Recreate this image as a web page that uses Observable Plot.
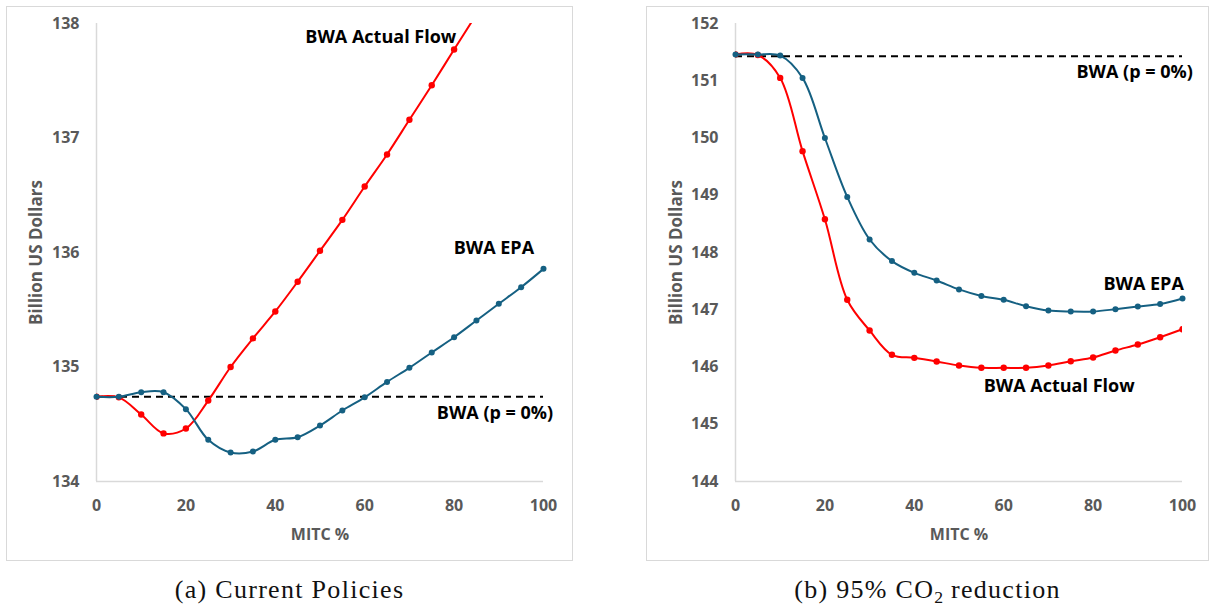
<!DOCTYPE html>
<html>
<head>
<meta charset="utf-8">
<script src="https://cdn.jsdelivr.net/npm/d3@7"></script>
<script src="https://cdn.jsdelivr.net/npm/@observablehq/plot@0.6"></script>
<style>
  body { margin: 0; background: #fff; width: 1210px; height: 606px; position: relative; overflow: hidden; }
  .panel { position: absolute; top: 7px; height: 553px; outline: 1.5px solid #d9d9d9; background: #fff; }
  .cap { position: absolute; top: 574px; font-family: "Liberation Serif", serif; font-size: 26px; letter-spacing: 1.3px; text-align: center; color: #111; line-height: 32px; }
  .cap sub { font-size: 0.68em; vertical-align: -0.3em; line-height: 0; letter-spacing: 0; }
</style>
</head>
<body>
<div id="pa" class="panel" style="left:7px;width:565px"></div>
<div id="pb" class="panel" style="left:647px;width:561px"></div>
<div class="cap" style="left:7px;width:565px">(a) Current Policies</div>
<div class="cap" style="left:647px;width:561px">(b) 95% CO<sub>2</sub> reduction</div>
<script>
// MITC share (%) evaluated in each scenario
const mitc = [0, 5, 10, 15, 20, 25, 30, 35, 40, 45, 50, 55, 60, 65, 70, 75, 80, 85, 90, 95, 100];
const xTicks = [0, 20, 40, 60, 80, 100];

// (a) Current Policies — billion US dollars
const currentBaseline = 134.74;
const currentEPA = [134.74, 134.74, 134.78, 134.78, 134.632, 134.364, 134.253, 134.262, 134.364, 134.387,
  134.489, 134.62, 134.735, 134.87, 134.993, 135.127, 135.26, 135.406, 135.552, 135.697, 135.857];
const currentActual = [134.74, 134.735, 134.585, 134.42, 134.463, 134.707, 135.0, 135.25, 135.485, 135.745,
  136.015, 136.285, 136.576, 136.856, 137.159, 137.461, 137.773, 138.08];
const currentTicks = [134, 135, 136, 137, 138];

// (b) 95% CO2 reduction — billion US dollars
const deepBaseline = 151.43;
const deepEPA = [151.46, 151.46, 151.44, 151.05, 150.0, 148.97, 148.227, 147.85, 147.645, 147.511,
  147.355, 147.24, 147.174, 147.062, 146.987, 146.97, 146.97, 147.01, 147.057, 147.10, 147.197];
const deepActual = [151.46, 151.45, 151.05, 149.77, 148.58, 147.174, 146.638, 146.213, 146.16, 146.096,
  146.026, 145.986, 145.986, 145.986, 146.026, 146.10, 146.166, 146.288, 146.393, 146.52, 146.66];
const deepTicks = [144, 145, 146, 147, 148, 149, 150, 151, 152];

const RED = "#ff0000";
const BLUE = "#156082";
const GRID = "#d9d9d9";
const AXIS_TEXT = "#595959";

function rows(values) {
  return values.map((v, i) => ({mitc: mitc[i], value: v}));
}

function label(text, x, y) {
  return Plot.text([text], {
    x: [x], y: [y], text: d => d,
    fill: "black", fontSize: 18, fontWeight: "bold", textAnchor: "middle"
  });
}

function panel({width, marginLeft, marginRight, domain, ticks, baseline, actual, epa, labels}) {
  return Plot.plot({
    width,
    height: 553,
    marginTop: 16,
    marginBottom: 79,
    marginLeft,
    marginRight,
    style: {fontFamily: "'Open Sans', sans-serif", fontSize: "16px", fontWeight: "bold", color: AXIS_TEXT, background: "#fff", overflow: "visible"},
    x: {domain: [0, 100]},
    y: {domain},
    marks: [
      Plot.ruleY([domain[0]], {stroke: GRID, strokeWidth: 1.5}),
      Plot.ruleX([0], {stroke: GRID, strokeWidth: 1.5}),
      Plot.ruleY([baseline], {x1: 0, x2: 100, stroke: "black", strokeWidth: 2, strokeDasharray: "7,5"}),
      Plot.line(rows(actual), {x: "mitc", y: "value", curve: "catmull-rom", stroke: RED, strokeWidth: 2, clip: true}),
      Plot.dot(rows(actual), {x: "mitc", y: "value", r: 3.2, fill: RED, clip: true}),
      Plot.line(rows(epa), {x: "mitc", y: "value", curve: "catmull-rom", stroke: BLUE, strokeWidth: 2}),
      Plot.dot(rows(epa), {x: "mitc", y: "value", r: 3, fill: BLUE}),
      ...labels.map(([t, x, y]) => label(t, x, y)),
      Plot.axisX({ticks: xTicks, tickFormat: "d", tickSize: 0, tickPadding: 18, label: "MITC %", labelAnchor: "center", labelArrow: "none", labelOffset: 58}),
      Plot.axisY({ticks, tickFormat: "d", tickSize: 0, tickPadding: 17, label: null}),
      // vertical axis title, centred on the plot frame
      Plot.text(["Billion US Dollars"], {
        frameAnchor: "left", rotate: -90, dx: -(marginLeft - 29), text: d => d,
        fontSize: 17, fontWeight: "bold", fill: AXIS_TEXT, textAnchor: "middle", lineAnchor: "middle"
      })
    ]
  });
}

document.getElementById("pa").append(panel({
  width: 565, marginLeft: 89, marginRight: 29,
  domain: [134, 138], ticks: currentTicks, baseline: currentBaseline,
  actual: currentActual, epa: currentEPA,
  labels: [["BWA Actual Flow", 63.6, 137.88], ["BWA EPA", 88.9, 136.035], ["BWA (p = 0%)", 89.15, 134.594]]
}));

document.getElementById("pb").append(panel({
  width: 561, marginLeft: 88, marginRight: 26,
  domain: [144, 152], ticks: deepTicks, baseline: deepBaseline,
  actual: deepActual, epa: deepEPA,
  labels: [["BWA (p = 0%)", 89.3, 151.144], ["BWA EPA", 91.3, 147.44], ["BWA Actual Flow", 72.4, 145.66]]
}));
</script>
</body>
</html>
